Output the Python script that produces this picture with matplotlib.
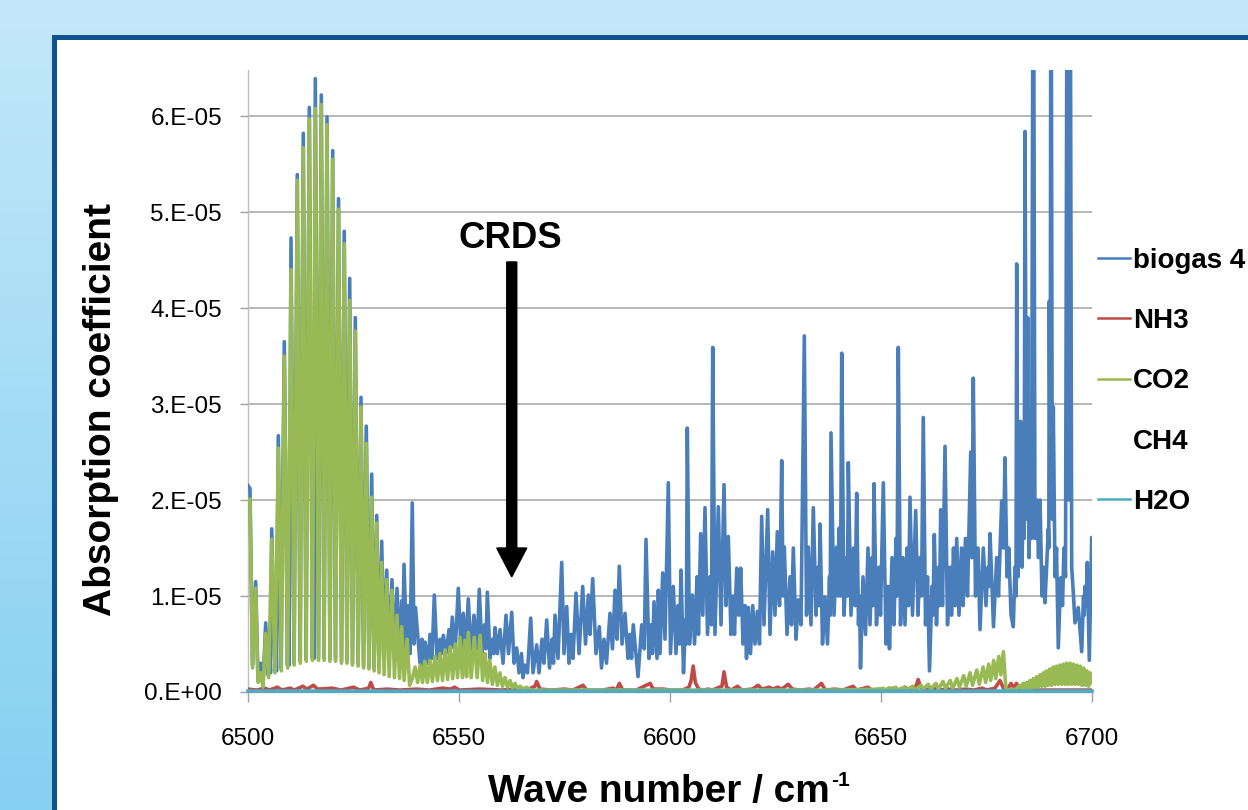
import numpy as np
import matplotlib
matplotlib.use('Agg')
import matplotlib.pyplot as plt
from matplotlib.patches import Rectangle, FancyArrow
from matplotlib.lines import Line2D
from matplotlib.colors import LinearSegmentedColormap

plt.rcParams['font.family'] = ['Liberation Sans', 'DejaVu Sans']

# ---------------- data (absorption coefficient in units of 1e-5) ----------------
biogas_wn = [
    6500.00, 6500.47, 6501.07, 6501.82, 6502.37, 6503.01, 6503.55, 6504.19,
    6504.74, 6505.09, 6505.33, 6505.62, 6506.40, 6506.52, 6506.75, 6507.18,
    6507.82, 6508.60, 6509.36, 6509.48, 6509.72, 6510.19, 6510.90, 6511.68,
    6512.32, 6513.10, 6513.74, 6514.53, 6515.28, 6515.45, 6515.64, 6515.95,
    6516.71, 6517.37, 6518.01, 6518.72, 6519.43, 6520.07, 6520.73, 6521.45,
    6522.16, 6522.80, 6523.46, 6524.10, 6524.76, 6525.43, 6526.07, 6526.78,
    6527.37, 6528.03, 6528.67, 6529.31, 6529.86, 6530.50, 6531.04, 6531.68,
    6532.23, 6532.87, 6533.41, 6534.12, 6534.72, 6535.31, 6535.90, 6536.42,
    6536.61, 6536.97, 6537.56, 6537.91, 6538.39, 6538.93, 6539.34, 6539.69,
    6540.76, 6541.23, 6541.59, 6541.94, 6542.65, 6543.13, 6543.60, 6544.15,
    6544.79, 6545.50, 6545.85, 6546.28, 6546.92, 6547.63, 6547.99, 6548.41,
    6549.05, 6549.83, 6550.47, 6551.02, 6551.66, 6552.20, 6552.84, 6553.55,
    6554.27, 6554.81, 6555.45, 6556.04, 6556.40, 6556.71, 6557.35, 6557.94,
    6558.29, 6558.53, 6559.12, 6559.72, 6560.43, 6561.14, 6561.73, 6562.49,
    6563.03, 6563.67, 6564.22, 6564.81, 6565.17, 6565.64, 6566.23, 6566.99,
    6567.54, 6568.41, 6568.96, 6569.67, 6570.14, 6570.78, 6571.45, 6572.04,
    6572.39, 6572.75, 6573.46, 6574.34, 6574.88, 6575.52, 6576.07, 6576.54,
    6577.01, 6577.73, 6578.44, 6579.31, 6579.98, 6580.64, 6581.04, 6581.68,
    6582.46, 6583.25, 6583.77, 6584.36, 6584.95, 6585.78, 6586.37, 6586.97,
    6587.44, 6587.99, 6588.63, 6589.34, 6590.05, 6590.52, 6590.88, 6591.30,
    6592.42, 6593.30, 6593.90, 6594.31, 6595.02, 6595.50, 6595.85, 6596.21,
    6596.92, 6597.23, 6597.63, 6598.27, 6598.82, 6599.60, 6600.12, 6600.78,
    6601.42, 6601.90, 6602.25, 6602.61, 6603.20, 6603.67, 6603.86, 6604.10,
    6604.62, 6605.29, 6605.81, 6606.40, 6606.75, 6607.27, 6607.77, 6608.29,
    6608.89, 6609.48, 6609.83, 6610.12, 6610.66, 6611.45, 6612.09, 6612.80,
    6613.27, 6613.82, 6614.45, 6614.93, 6615.28, 6615.81, 6616.28, 6616.75,
    6617.30, 6617.77, 6618.13, 6618.56, 6619.08, 6619.60, 6620.14, 6620.69,
    6621.21, 6621.73, 6622.27, 6623.15, 6623.70, 6624.34, 6624.88, 6625.43,
    6625.95, 6626.47, 6626.78, 6627.09, 6627.73, 6628.44, 6628.79, 6629.22,
    6629.86, 6630.40, 6631.04, 6631.83, 6632.35, 6632.77, 6633.41, 6633.96,
    6634.60, 6635.07, 6635.31, 6635.55, 6636.14, 6636.73, 6637.32, 6637.80,
    6637.96, 6638.15, 6638.86, 6639.50, 6639.81, 6640.12, 6640.40, 6640.69,
    6641.23, 6641.82, 6642.06, 6642.25, 6642.89, 6643.48, 6643.84, 6644.24,
    6644.67, 6644.91, 6645.14, 6645.73, 6646.33, 6646.92, 6647.39, 6647.87,
    6648.10, 6648.34, 6648.93, 6649.53, 6649.88, 6650.55, 6651.18, 6651.66,
    6652.01, 6652.61, 6653.08, 6653.55, 6653.79, 6654.10, 6654.62, 6655.21,
    6655.69, 6656.16, 6656.52, 6656.87, 6657.46, 6658.22, 6658.77, 6659.24,
    6659.60, 6660.02, 6660.55, 6661.02, 6661.49, 6662.09, 6662.32, 6662.63,
    6663.15, 6663.63, 6663.86, 6664.15, 6664.57, 6665.17, 6665.76, 6666.35,
    6666.71, 6667.18, 6667.54, 6667.94, 6668.48, 6669.08, 6669.43, 6670.02,
    6670.50, 6671.26, 6671.56, 6671.87, 6672.39, 6672.99, 6673.46, 6674.24,
    6674.88, 6675.36, 6675.55, 6675.83, 6676.66, 6677.42, 6677.84, 6678.60,
    6679.03, 6679.38, 6679.86, 6680.28, 6680.81, 6681.35, 6681.75, 6681.99,
    6682.16, 6682.46, 6682.82, 6682.94, 6683.10, 6683.41, 6683.72, 6683.93,
    6684.12, 6684.48, 6684.76, 6685.07, 6685.43, 6685.66, 6686.09, 6686.49,
    6686.97, 6687.32, 6687.68, 6688.15, 6688.51, 6688.86, 6689.65, 6689.76,
    6689.88, 6690.09, 6690.28, 6690.59, 6690.83, 6691.23, 6691.59, 6692.01,
    6692.58, 6693.01, 6693.36, 6693.72, 6694.15, 6694.45, 6694.79, 6695.19,
    6695.62, 6695.97, 6696.75, 6697.56, 6697.99, 6698.17, 6698.34, 6698.58,
    6698.89, 6699.36, 6699.93, 6700.00,
]
biogas_e5 = [
    2.15, 2.12, 0.28, 1.15, 0.12, 0.30, 0.06, 0.72,
    0.18, 0.60, 0.20, 1.70, 0.22, 0.75, 0.22, 2.67,
    0.25, 3.65, 0.28, 0.85, 0.28, 4.73, 0.30, 5.39,
    0.32, 5.82, 0.34, 6.09, 0.35, 1.70, 0.35, 6.39,
    0.35, 6.22, 0.35, 5.99, 0.34, 5.64, 0.34, 5.14,
    0.32, 4.80, 0.32, 4.31, 0.30, 3.90, 0.29, 3.07,
    0.27, 2.77, 0.26, 2.27, 0.25, 1.84, 0.24, 1.57,
    0.40, 1.27, 0.40, 1.17, 0.35, 1.08, 0.35, 0.95,
    0.45, 1.33, 0.45, 0.90, 0.40, 1.97, 0.50, 0.88,
    0.30, 0.55, 0.25, 0.52, 0.30, 0.60, 0.35, 1.01,
    0.35, 0.55, 0.40, 0.59, 0.40, 0.65, 0.45, 0.78,
    0.40, 1.08, 0.45, 0.82, 0.45, 0.97, 0.40, 0.80,
    0.45, 1.07, 0.40, 0.70, 0.45, 1.04, 0.35, 0.55,
    0.40, 0.67, 0.40, 0.65, 0.30, 0.80, 0.40, 0.83,
    0.30, 0.46, 0.20, 0.40, 0.15, 0.28, 0.20, 0.77,
    0.20, 0.49, 0.20, 0.55, 0.30, 0.75, 0.25, 0.55,
    0.30, 0.80, 0.35, 1.35, 0.40, 0.89, 0.30, 0.60,
    0.35, 1.03, 0.40, 1.10, 0.50, 1.01, 0.60, 1.18,
    0.40, 0.68, 0.25, 0.55, 0.30, 0.82, 0.45, 1.06,
    0.55, 1.31, 0.50, 0.82, 0.35, 0.60, 0.35, 0.70,
    0.16, 0.70, 0.45, 1.59, 0.35, 0.70, 0.40, 0.94,
    0.35, 1.06, 0.40, 1.24, 0.55, 2.18, 0.40, 1.10,
    0.40, 0.90, 0.50, 1.27, 0.20, 0.75, 0.50, 2.75,
    0.50, 1.01, 0.50, 1.20, 0.60, 1.65, 0.80, 1.92,
    0.60, 1.20, 0.70, 3.59, 0.60, 1.93, 0.70, 2.16,
    0.90, 1.62, 0.60, 1.00, 0.60, 1.29, 0.80, 1.29,
    0.50, 0.90, 0.35, 0.88, 0.40, 0.90, 0.50, 0.84,
    0.50, 1.83, 0.70, 1.90, 0.60, 1.46, 0.80, 1.67,
    0.90, 2.41, 1.00, 1.51, 0.60, 1.20, 0.70, 1.50,
    0.55, 0.96, 0.70, 3.71, 0.80, 1.51, 0.70, 1.92,
    0.80, 1.30, 0.90, 1.75, 0.50, 0.99, 0.50, 1.20,
    0.80, 2.70, 0.80, 1.51, 1.00, 1.71, 1.00, 3.53,
    0.80, 1.40, 1.00, 2.39, 0.80, 1.50, 0.90, 2.07,
    0.70, 1.00, 0.25, 1.20, 0.60, 1.50, 0.70, 1.40,
    0.90, 2.17, 0.70, 1.30, 0.80, 2.18, 0.50, 1.10,
    0.45, 1.40, 0.70, 1.60, 1.00, 3.59, 0.70, 1.40,
    0.70, 1.50, 0.90, 2.03, 0.80, 1.89, 0.80, 1.40,
    1.00, 2.86, 0.70, 1.20, 0.22, 1.10, 0.80, 1.64,
    0.70, 1.30, 0.90, 1.90, 0.90, 2.56, 0.70, 1.30,
    0.80, 1.50, 0.90, 1.60, 0.80, 1.50, 0.90, 1.60,
    1.00, 2.50, 1.40, 3.27, 1.00, 1.50, 0.65, 1.50,
    0.90, 1.30, 1.10, 1.65, 0.68, 1.40, 1.00, 1.99,
    1.50, 2.44, 1.20, 1.50, 0.80, 0.68, 1.30, 1.00,
    4.46, 1.20, 2.00, 1.50, 2.82, 1.30, 2.12, 1.60,
    5.84, 1.80, 3.90, 1.40, 2.30, 1.60, 9.00, 1.60,
    2.00, 1.40, 2.00, 1.00, 1.30, 0.93, 1.70, 1.50,
    4.07, 2.00, 9.00, 1.80, 2.97, 1.20, 1.50, 0.46,
    1.19, 0.90, 1.50, 1.20, 9.00, 2.00, 9.00, 1.30,
    1.00, 0.72, 0.88, 0.42, 1.00, 0.80, 1.10, 0.90,
    1.35, 0.33, 1.61, 1.45,
]

nh3_wn = [
    6500.0, 6502.0, 6504.0, 6505.0, 6507.0, 6508.0, 6510.0, 6511.0,
    6513.0, 6514.0, 6515.5, 6516.5, 6520.0, 6522.0, 6525.0, 6526.5,
    6528.6, 6529.1, 6529.8, 6533.0, 6536.0, 6540.0, 6543.0, 6546.0,
    6548.0, 6549.0, 6550.0, 6555.0, 6560.0, 6564.0, 6566.0, 6568.0,
    6568.4, 6569.2, 6572.0, 6575.0, 6577.0, 6579.4, 6580.2, 6584.0,
    6586.5, 6587.3, 6588.0, 6588.8, 6592.0, 6595.3, 6596.0, 6598.5,
    6600.0, 6603.0, 6604.5, 6605.0, 6605.5, 6606.0, 6606.8, 6608.0,
    6609.0, 6610.0, 6612.3, 6612.8, 6613.4, 6614.5, 6616.0, 6617.0,
    6619.5, 6620.9, 6621.8, 6623.5, 6624.4, 6625.5, 6626.5, 6628.0,
    6629.0, 6631.0, 6633.0, 6634.0, 6635.9, 6636.8, 6639.0, 6641.0,
    6643.4, 6644.2, 6646.9, 6647.8, 6650.0, 6651.0, 6653.0, 6654.0,
    6655.7, 6656.5, 6658.3, 6658.8, 6659.4, 6660.5, 6662.5, 6663.5,
    6666.0, 6668.0, 6670.0, 6672.0, 6674.0, 6675.0, 6677.0, 6678.2,
    6679.0, 6680.0, 6680.8, 6681.5, 6682.1, 6682.8, 6684.0, 6688.0,
    6692.0, 6696.0, 6700.0,
]
nh3_e5 = [
    0.03, 0.02, 0.04, 0.02, 0.05, 0.02, 0.04, 0.02,
    0.06, 0.03, 0.07, 0.03, 0.04, 0.02, 0.05, 0.02,
    0.04, 0.10, 0.02, 0.03, 0.02, 0.03, 0.02, 0.04,
    0.03, 0.05, 0.02, 0.03, 0.02, 0.03, 0.02, 0.06,
    0.11, 0.03, 0.02, 0.03, 0.02, 0.07, 0.02, 0.02,
    0.04, 0.02, 0.09, 0.02, 0.02, 0.09, 0.03, 0.03,
    0.02, 0.02, 0.05, 0.12, 0.27, 0.10, 0.03, 0.02,
    0.03, 0.02, 0.06, 0.21, 0.05, 0.02, 0.06, 0.02,
    0.03, 0.07, 0.03, 0.05, 0.03, 0.05, 0.03, 0.08,
    0.03, 0.02, 0.03, 0.02, 0.09, 0.02, 0.03, 0.02,
    0.06, 0.02, 0.05, 0.02, 0.03, 0.02, 0.04, 0.02,
    0.05, 0.02, 0.06, 0.13, 0.05, 0.02, 0.04, 0.02,
    0.03, 0.02, 0.03, 0.02, 0.04, 0.02, 0.04, 0.12,
    0.04, 0.03, 0.09, 0.04, 0.09, 0.03, 0.02, 0.02,
    0.02, 0.02, 0.02,
]

co2_wn = [
    6500.00, 6500.47, 6501.07, 6501.82, 6502.37, 6503.01, 6503.55, 6504.19,
    6504.90, 6505.62, 6506.40, 6507.18, 6507.90, 6508.60, 6509.40, 6510.19,
    6510.95, 6511.68, 6512.40, 6513.10, 6513.80, 6514.53, 6515.25, 6515.95,
    6516.70, 6517.37, 6518.05, 6518.72, 6519.40, 6520.07, 6520.75, 6521.45,
    6522.15, 6522.80, 6523.45, 6524.10, 6524.75, 6525.43, 6526.10, 6526.78,
    6527.40, 6528.03, 6528.65, 6529.31, 6529.90, 6530.50, 6531.05, 6531.68,
    6532.25, 6532.87, 6533.45, 6534.12, 6534.70, 6535.31, 6535.90, 6536.42,
    6537.00, 6537.70, 6538.30, 6539.00, 6539.60, 6540.20, 6540.80, 6541.35,
    6541.90, 6542.50, 6543.10, 6543.70, 6544.30, 6544.90, 6545.50, 6546.10,
    6546.70, 6547.30, 6547.90, 6548.50, 6549.10, 6549.65, 6550.20, 6550.80,
    6551.40, 6551.80, 6552.20, 6552.90, 6553.60, 6554.30, 6555.00, 6555.60,
    6556.20, 6556.75, 6557.30, 6557.90, 6558.50, 6559.10, 6559.70, 6560.30,
    6560.90, 6561.50, 6562.10, 6562.70, 6563.30, 6563.90, 6564.50, 6565.20,
    6566.00, 6567.00, 6580.00, 6600.00, 6620.00, 6640.00, 6650.00, 6650.50,
    6651.00, 6652.00, 6652.50, 6653.50, 6654.00, 6655.50, 6656.00, 6657.50,
    6658.00, 6659.50, 6660.00, 6661.20, 6661.80, 6663.00, 6663.60, 6664.70,
    6665.30, 6666.40, 6667.00, 6668.00, 6668.60, 6669.60, 6670.20, 6671.10,
    6671.70, 6672.70, 6673.30, 6674.20, 6674.80, 6675.50, 6676.00, 6676.70,
    6677.20, 6677.90, 6678.40, 6679.00, 6679.60, 6680.50, 6682.00, 6682.90,
    6683.30, 6683.70, 6684.10, 6684.50, 6684.90, 6685.30, 6685.70, 6686.10,
    6686.50, 6686.90, 6687.30, 6687.70, 6688.10, 6688.50, 6688.90, 6689.20,
    6689.60, 6690.00, 6690.40, 6690.80, 6691.20, 6691.60, 6692.00, 6692.40,
    6692.80, 6693.20, 6693.60, 6694.00, 6694.40, 6694.80, 6695.20, 6695.60,
    6696.00, 6696.40, 6696.80, 6697.20, 6697.60, 6698.00, 6698.40, 6698.80,
    6699.20, 6699.50, 6700.00,
]
co2_e5 = [
    2.00, 2.01, 0.25, 1.08, 0.10, 0.20, 0.05, 0.61,
    0.15, 1.59, 0.20, 2.54, 0.22, 3.50, 0.25, 4.40,
    0.28, 5.33, 0.30, 5.67, 0.32, 5.97, 0.33, 6.08,
    0.33, 6.12, 0.33, 5.91, 0.32, 5.55, 0.32, 5.03,
    0.30, 4.67, 0.30, 4.08, 0.28, 3.76, 0.27, 2.97,
    0.25, 2.59, 0.24, 2.03, 0.22, 1.76, 0.20, 1.35,
    0.18, 1.17, 0.16, 1.06, 0.15, 0.80, 0.14, 0.68,
    0.12, 0.55, 0.07, 0.15, 0.26, 0.10, 0.28, 0.10,
    0.32, 0.10, 0.33, 0.11, 0.37, 0.12, 0.40, 0.12,
    0.44, 0.13, 0.47, 0.14, 0.50, 0.15, 0.57, 0.15,
    0.54, 0.16, 0.62, 0.15, 0.57, 0.15, 0.59, 0.12,
    0.40, 0.10, 0.33, 0.08, 0.26, 0.07, 0.20, 0.06,
    0.15, 0.05, 0.12, 0.04, 0.09, 0.03, 0.06, 0.03,
    0.05, 0.02, 0.02, 0.02, 0.02, 0.02, 0.03, 0.04,
    0.02, 0.045, 0.02, 0.05, 0.02, 0.05, 0.02, 0.06,
    0.02, 0.07, 0.03, 0.08, 0.03, 0.09, 0.03, 0.11,
    0.04, 0.12, 0.04, 0.14, 0.05, 0.17, 0.06, 0.20,
    0.07, 0.23, 0.08, 0.26, 0.10, 0.29, 0.12, 0.33,
    0.14, 0.37, 0.18, 0.42, 0.03, 0.02, 0.03, 0.07,
    0.03, 0.09, 0.03, 0.10, 0.04, 0.12, 0.04, 0.14,
    0.05, 0.16, 0.05, 0.18, 0.06, 0.20, 0.06, 0.22,
    0.07, 0.24, 0.07, 0.26, 0.08, 0.27, 0.08, 0.28,
    0.08, 0.29, 0.08, 0.30, 0.08, 0.30, 0.08, 0.29,
    0.08, 0.28, 0.08, 0.27, 0.07, 0.25, 0.07, 0.22,
    0.06, 0.20, 0.10,
]

h2o_wn = [6500.0, 6550.0, 6600.0, 6650.0, 6700.0]
h2o_e5 = [0.010, 0.008, 0.010, 0.009, 0.010]

series_labels = ['biogas 4', 'NH3', 'CO2', 'CH4', 'H2O']
series_colors = ['#4a7ebb', '#be4b48', '#98b954', '#7d60a0', '#4bacc6']

yticks_e5 = [0, 1, 2, 3, 4, 5, 6]
ytick_labels = ['0.E+00', '1.E-05', '2.E-05', '3.E-05', '4.E-05', '5.E-05', '6.E-05']
xticks = [6500, 6550, 6600, 6650, 6700]

UNIT = 1e-5

# ---------------- figure ----------------
W, H = 1248, 810
fig = plt.figure(figsize=(W / 100, H / 100), dpi=100)

bg = fig.add_axes([0, 0, 1, 1], zorder=-10)
bg.set_xlim(0, W)
bg.set_ylim(H, 0)
bg.axis('off')
grad = np.linspace(0, 1, 256).reshape(-1, 1)
cmap = LinearSegmentedColormap.from_list('bg', ['#c3e8f9', '#86d0f2'])
bg.imshow(grad, cmap=cmap, extent=[0, W, H, 0], aspect='auto')
bg.add_patch(Rectangle((54.2, 36.8), 1400, 1000, facecolor='white',
                       edgecolor='#10528f', lw=3.6))

ax = fig.add_axes([248 / W, 1 - 692 / H, (1092 - 248) / W, (692 - 70) / H])
ax.set_facecolor('none')

lw = 2.6
l_bio, = ax.plot(biogas_wn, np.array(biogas_e5) * UNIT, color=series_colors[0], lw=lw, zorder=3)
l_nh3, = ax.plot(nh3_wn, np.array(nh3_e5) * UNIT, color=series_colors[1], lw=lw, zorder=4)
l_co2, = ax.plot(co2_wn, np.array(co2_e5) * UNIT, color=series_colors[2], lw=lw, zorder=5)
l_h2o, = ax.plot(h2o_wn, np.array(h2o_e5) * UNIT, color=series_colors[4], lw=lw, zorder=6,
                 clip_on=False)
l_ch4 = Line2D([], [], color='none', lw=lw)

ax.set_xlim(6500, 6700)
ax.set_ylim(0, 6.48e-5)
ax.set_xticks(xticks)
ax.set_xticklabels([str(t) for t in xticks])
ax.set_yticks([v * UNIT for v in yticks_e5])
ax.set_yticklabels(ytick_labels)

ax.yaxis.grid(True, color='#a3a3a3', lw=1.1, zorder=0)
ax.set_axisbelow(True)
for s in ['top', 'right']:
    ax.spines[s].set_visible(False)
ax.spines['left'].set_color('#c0c0c0')
ax.spines['left'].set_linewidth(1.0)
ax.spines['bottom'].set_color('#a0a0a0')
ax.spines['bottom'].set_linewidth(1.0)

ax.tick_params(axis='y', direction='out', length=5.8, width=1.0, color='#a3a3a3',
               pad=13, labelsize=17.5, labelcolor='black')
ax.tick_params(axis='x', direction='out', length=7.2, width=1.0, color='#a3a3a3',
               pad=19, labelsize=17.5, labelcolor='black')

# CRDS annotation with arrow
arrow_x = 6562.5
ax.add_patch(FancyArrow(arrow_x, 4.48e-5, 0, -3.28e-5, width=2.37, head_width=7.1,
                        head_length=0.30e-5, length_includes_head=True,
                        color='black', zorder=8))
ax.text(6562.1, 4.625e-5, 'CRDS', ha='center', va='baseline', fontsize=26.4,
        fontweight='bold', color='black', zorder=8)

# axis titles
fig.text(101 / W, 1 - 410 / H, 'Absorption coefficient', rotation=90, ha='center',
         va='center', fontsize=28, fontweight='bold')
xl = fig.text(488 / W, 1 - 802 / H, 'Wave number / cm', ha='left', va='baseline',
              fontsize=28, fontweight='bold')
fig.canvas.draw()
bb = xl.get_window_extent()
fig.text((bb.x1 + 1) / W, 1 - 786 / H, '-1', ha='left', va='baseline',
         fontsize=15, fontweight='bold')

# legend
leg = fig.legend([l_bio, l_nh3, l_co2, l_ch4, l_h2o], series_labels,
                 loc='upper left', bbox_to_anchor=(1098 / W, 1 - 248 / H),
                 frameon=False, prop=dict(family='Liberation Sans', weight='bold', size=20),
                 handlelength=1.15, handletextpad=0.12, labelspacing=1.23,
                 borderpad=0, borderaxespad=0)
for ln in leg.get_lines():
    ln.set_linewidth(1.8)

fig.savefig('out.png', dpi=100)
